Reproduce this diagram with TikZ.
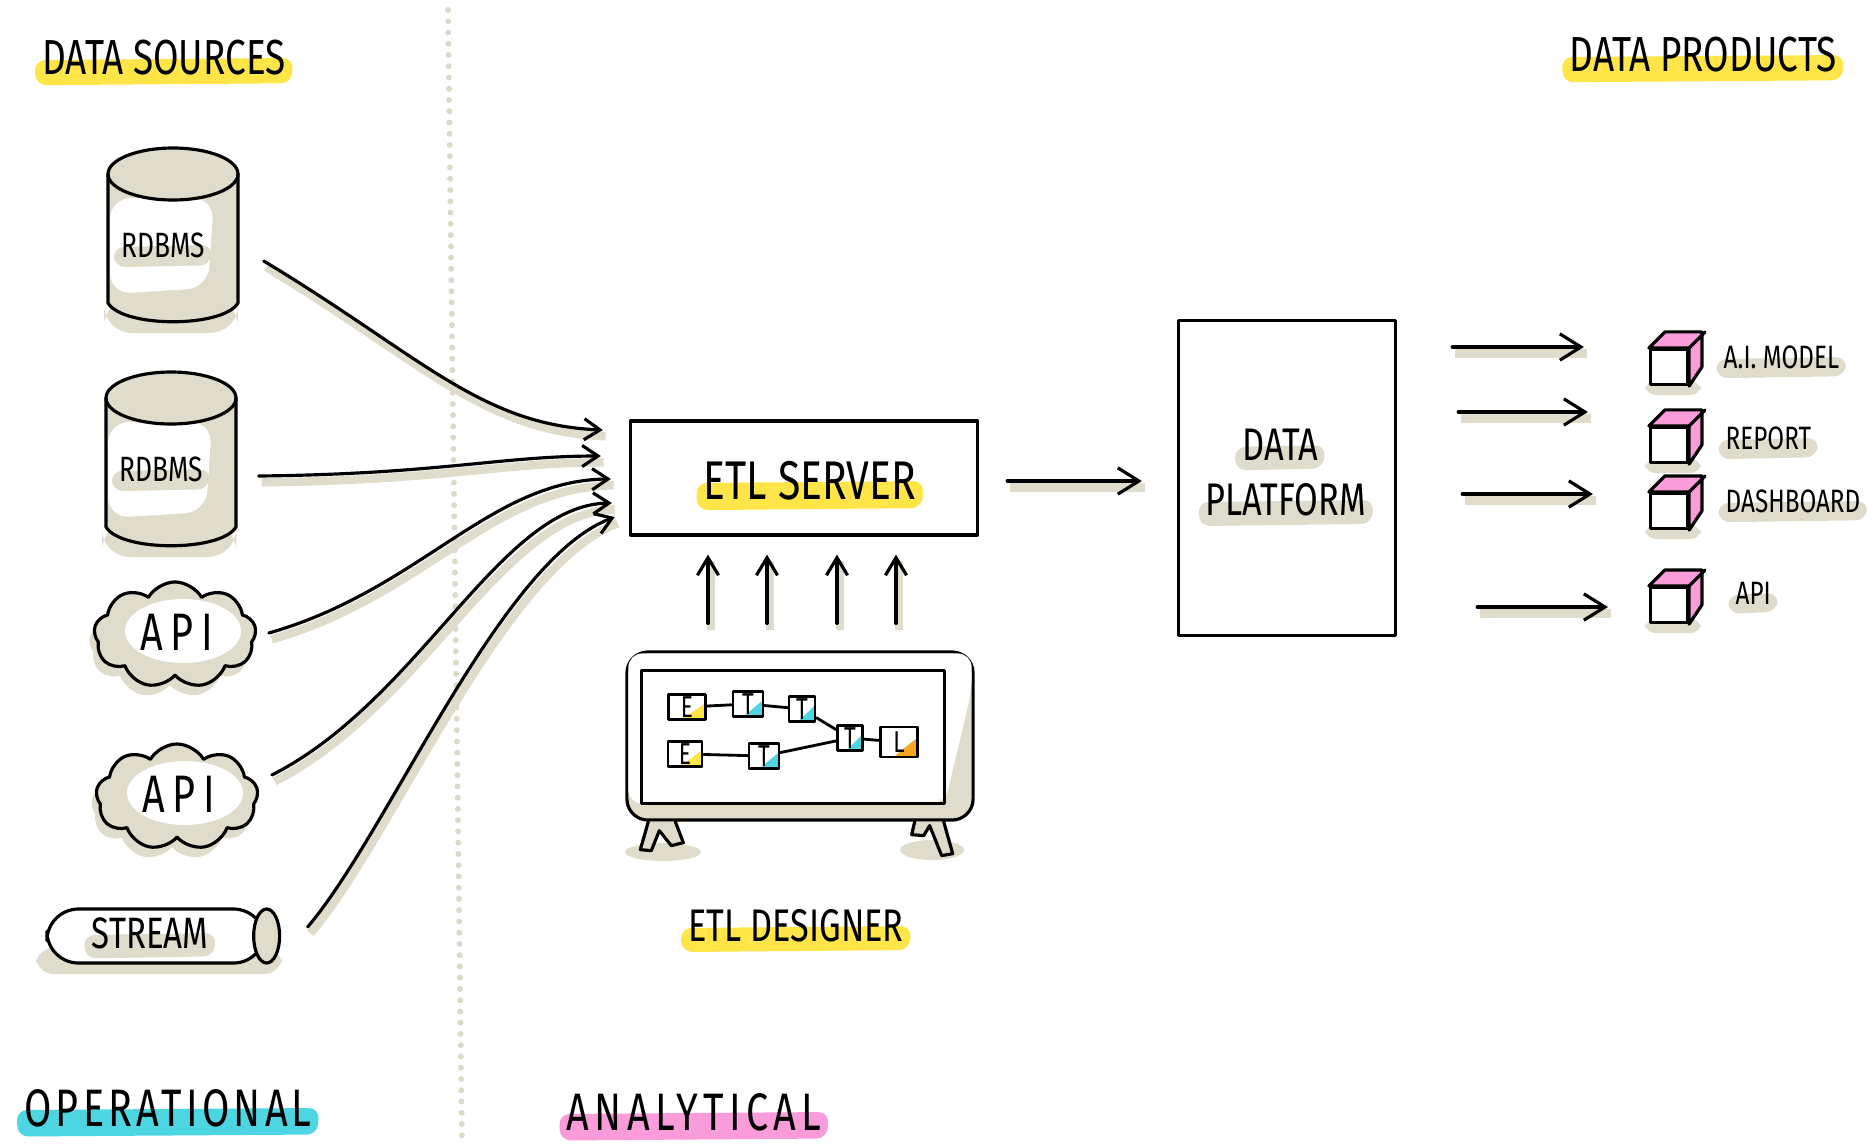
\documentclass[tikz,border=0pt]{standalone}
\usepackage{fontspec}
\newfontfamily\hand[FakeStretch=0.75]{Fira Sans}
\usepackage{tikz}
\usetikzlibrary{arrows.meta,calc,shapes.symbols,backgrounds}
\pgfdeclarelayer{front}
\pgfsetlayers{background,main,front}

\definecolor{sand}{HTML}{E0DCCB}
\definecolor{dotgrey}{HTML}{DDD9C9}
\definecolor{hlyellow}{HTML}{FFE547}
\definecolor{hlcyan}{HTML}{4DD5E2}
\definecolor{hlpink}{HTML}{FA9BDA}
\definecolor{hlorange}{HTML}{F5A623}

\tikzstyle{ink} = [line width=0.9pt, line join=round, line cap=round]
\tikzstyle{arr} = [ink, -{Straight Barb[length=6pt,width=7.5pt]},
    preaction={draw=sand, line width=2.4pt, arrows=-, transform canvas={shift={(0.8pt,-1.8pt)}}}]
\tikzstyle{feed} = [arr, -{Straight Barb[length=4.5pt,width=6pt]}]
\tikzstyle{word} = [inner sep=0pt, font=\hand\fontsize{14}{16}\selectfont]
\tikzstyle{dbword} = [inner sep=0pt, font=\hand\fontsize{10}{12}\selectfont]
\tikzstyle{apiword} = [inner sep=0pt, font=\hand\fontsize{15}{17}\selectfont\addfontfeature{LetterSpace=14}]
\tikzstyle{platword} = [inner sep=0pt, font=\hand\fontsize{13}{15}\selectfont]
\tikzstyle{tagword} = [inner sep=0pt, anchor=west, font=\hand\fontsize{9.2}{11}\selectfont]
\tikzstyle{cloudy} = [cloud, cloud puffs=9, cloud puff arc=120, cloud ignores aspect,
    minimum width=1.62cm, minimum height=1.06cm, draw, ink, fill=sand]
\tikzset{etlbox/.style={draw, ink, line width=0.8pt, fill=white, minimum width=0.3cm,
    minimum height=0.25cm, inner sep=0pt, font=\hand\fontsize{8.6}{9}\selectfont,
    path picture={\fill[#1] ($(path picture bounding box.south west)!0.35!(path picture bounding box.south east)$)
      -- (path picture bounding box.south east)
      -- ($(path picture bounding box.south east)!0.65!(path picture bounding box.north east)$) -- cycle;}}}

% marker stroke under a word, #1 colour, #2 word node
\newcommand{\smear}[2]{%
  \fill[#1, rounded corners=3pt] ($(#2.west)+(-7,2)$) -- ($(#2.east)+(7,0)$)
    -- ($(#2.south east)+(5,7)$) -- ($(#2.south west)+(-6,9)$) -- cycle;}

% database drum, #1 name, #2 left, #3 top, #4 text
\newcommand{\drum}[4]{%
  \begin{scope}[shift={(#2,#3)}]
    \fill[sand, rounded corners=8pt] (-4,150) rectangle (130,185);% floor shadow
    \fill[sand] (0,26) -- (0,155) .. controls (15,180) and (115,180) .. (130,155) -- (130,26) -- cycle;% body
    \fill[white, rounded corners=6pt] (2,50) -- (106,50) -- (100,140) -- (2,146) -- cycle;% lit front
    \filldraw[ink, fill=sand] (65,26) ellipse (65 and 26);% lid
    \draw[ink] (0,26) -- (0,155) .. controls (15,180) and (115,180) .. (130,155) -- (130,26);% outline
    \node[minimum width=1.3cm, minimum height=1.75cm, inner sep=0pt] (#1) at (65,88) {};
    \begin{pgfonlayer}{front}
      \node[dbword] (#1txt) at (55,97) {#4};
    \end{pgfonlayer}
  \end{scope}
  \smear{sand}{#1txt}}

% api cloud, #1 name, #2 x, #3 y
\newcommand{\puff}[3]{%
  \node[cloudy] (#1) at (#2,#3) {};
  \begin{scope}[on background layer]
    \node[cloudy, draw=none] at ($(#1)+(-5,10)$) {};% shadow
  \end{scope}
  \fill[white] ($(#1)+(8,-4)$) ellipse (58 and 32);
  \begin{pgfonlayer}{front}
    \node[apiword] (#1txt) at ($(#1)+(2,-3)$) {API};
  \end{pgfonlayer}}

% product cube, #1 name, #2 x, #3 y
\newcommand{\crate}[3]{%
  \node[draw, ink, fill=white, minimum width=0.37cm, minimum height=0.35cm, inner sep=0pt] (#1) at (#2,#3) {};
  \begin{scope}[on background layer]
    \fill[sand, rounded corners=3pt] ($(#1.south west)+(-4,-5)$) rectangle ($(#1.south east)+(12,9)$);
  \end{scope}
  \filldraw[ink, fill=hlpink] (#1.north west) -- ++(16,-16) -- ++(37,0) -- ++(0,35)
    -- (#1.south east) -- (#1.north east) -- cycle;% top and side
  \draw[ink] (#1.north east) -- ++(16,-16);}

\begin{document}
\begin{tikzpicture}[x=0.01cm, y=-0.01cm]
    \useasboundingbox (0,0) rectangle (1876,1145);
    \draw[dotgrey, line width=1.7pt, line cap=round, dash pattern=on 0pt off 3.2pt] (448,10) -- (462,1145);% divider

    % sources
    \drum{db1}{108}{148}{RDBMS}
    \drum{db2}{106}{372}{RDBMS}
    \puff{api1}{175}{635}
    \puff{api2}{177}{797}
    \begin{scope}[on background layer]
      \fill[sand, rounded corners=5pt] (36,948) rectangle (282,974);% stream shadow
    \end{scope}
    \node[draw, ink, fill=white, rounded corners=9pt, minimum width=2.18cm, minimum height=0.54cm] (stream) at (156,936) {};
    \filldraw[ink, fill=sand] (stream.east) ellipse (13 and 27);% pipe end
    \begin{pgfonlayer}{front}
      \node[word, font=\hand\fontsize{12.5}{14}\selectfont] (streamtxt) at (150,933) {STREAM};
    \end{pgfonlayer}
    \smear{sand}{streamtxt}

    % etl server
    \node[draw, ink, minimum width=3.47cm, minimum height=1.14cm] (etl) at (804,478) {};
    \begin{pgfonlayer}{front}
      \node[word, font=\hand\fontsize{15.5}{17}\selectfont] (etltxt) at (810,481) {ETL SERVER};
    \end{pgfonlayer}
    \smear{hlyellow}{etltxt}

    % sources into the server
    \draw[feed] ($(db1.east)+(25,25)$) .. controls (420,355) and (480,425) .. ($(etl.west)+(-26,-48)$);
    \draw[feed] ($(db2.east)+(22,16)$) .. controls (440,474) and (500,456) .. ($(etl.west)+(-28,-22)$);
    \draw[feed] ($(api1.east)+(12,-2)$) .. controls (420,590) and (490,480) .. ($(etl.west)+(-18,1)$);
    \draw[feed] ($(api2.east)+(13,-22)$) .. controls (420,700) and (500,505) .. ($(etl.west)+(-17,25)$);
    \draw[feed] ($(stream.east)+(41,-9)$) .. controls (390,830) and (500,560) .. ($(etl.west)+(-14,39)$);

    % etl designer screen
    \begin{scope}[on background layer]
      \fill[sand] (663,852) ellipse (38 and 9);
      \fill[sand] (932,850) ellipse (32 and 10);
    \end{scope}
    \node[draw, ink, fill=sand, rounded corners=6pt, minimum width=3.46cm, minimum height=1.68cm] (designer) at (800,736) {};
    \fill[white, rounded corners=4pt] ($(designer.north west)+(3,3)$) -- ($(designer.north east)+(-3,3)$)
      -- ($(designer.north east)+(-3,40)$) -- ($(designer.south east)+(-30,-18)$)
      -- ($(designer.south west)+(3,-18)$) -- cycle;
    \draw[ink] ($(designer.north west)+(16,20)$) rectangle ($(designer.south east)+(-30,-18)$);% screen
    \filldraw[ink, fill=sand] ($(designer.south west)+(23,0)$) -- ++(-8,28) -- ++(11,1) -- ++(8,-20)
      -- ++(12,15) -- ++(12,-3) -- ++(-8,-21);% left foot
    \filldraw[ink, fill=sand] ($(designer.south east)+(-60,0)$) -- ++(-3,13) -- ++(12,1) -- ++(6,-10)
      -- ++(12,30) -- ++(11,-2) -- ++(-9,-32);% right foot

    % flow on the screen
    \node[etlbox=hlyellow, minimum width=0.37cm] (e1) at (687,707) {E};
    \node[etlbox=hlcyan] (t1) at (748,704) {T};
    \node[etlbox=hlcyan, minimum width=0.26cm] (t2) at (802,709) {T};
    \node[etlbox=hlcyan, minimum width=0.25cm] (t3) at (850,738) {T};
    \node[etlbox=hlorange, minimum width=0.37cm, minimum height=0.3cm] (l1) at (899,742) {L};
    \node[etlbox=hlyellow, minimum width=0.34cm] (e2) at (685,754) {E};
    \node[etlbox=hlcyan] (t4) at (764,756) {T};
    \draw[ink, line width=0.8pt] (e1) -- (t1) -- (t2) -- (t3) -- (l1);
    \draw[ink, line width=0.8pt] (e2) -- (t4) -- (t3);

    \foreach \dx in {-92,-33,37,96}
      \draw[arr, -{Straight Barb[length=5pt,width=6pt]}] ($(designer.north)+(\dx,-27)$)
        -- ($(designer.north |- etl.south)+(\dx,18)$);% designer feeds server
    \begin{pgfonlayer}{front}
      \node[word, font=\hand\fontsize{13}{15}\selectfont] (designertxt) at (796,926) {ETL DESIGNER};
    \end{pgfonlayer}
    \smear{hlyellow}{designertxt}

    % data platform
    \node[draw, ink, minimum width=2.17cm, minimum height=3.15cm] (platform) at (1287,478) {};
    \begin{pgfonlayer}{front}
      \node[platword] (plat1) at (1280,445) {DATA};
      \node[platword] (plat2) at (1286,500) {PLATFORM};
    \end{pgfonlayer}
    \smear{sand}{plat1}
    \smear{sand}{plat2}
    \draw[arr] ($(etl.east)+(28,3)$) -- ($(platform.west |- etl.east)+(-35,3)$);

    % products
    \crate{ai}{1669}{367}
    \crate{rep}{1669}{445}
    \crate{dash}{1669}{511}
    \crate{apiout}{1669}{605}
    \foreach \c/\dy/\a/\b in {ai/-20/55/-65, rep/-33/61/-61, dash/-17/65/-56, apiout/2/80/-41}
      \draw[arr] ($(platform.east |- \c.west)+(\a,\dy)$) -- ($(\c.west)+(\b,\dy)$);
    \begin{pgfonlayer}{front}
      \node[tagword] (aitxt) at (1723,357) {A.I. MODEL};
      \node[tagword] (reptxt) at (1725,438) {REPORT};
      \node[tagword] (dashtxt) at (1725,501) {DASHBOARD};
      \node[tagword] (apitxt) at (1735,593) {API};
    \end{pgfonlayer}
    \smear{sand}{aitxt}
    \smear{sand}{reptxt}
    \smear{sand}{dashtxt}
    \smear{sand}{apitxt}

    % headings
    \begin{pgfonlayer}{front}
      \node[word] (srcs) at (164,58) {DATA SOURCES};
      \node[word] (prods) at (1703,55) {DATA PRODUCTS};
      \node[word, font=\hand\fontsize{15}{17}\selectfont\addfontfeature{LetterSpace=8}] (oper) at (168,1108) {OPERATIONAL};
      \node[word, font=\hand\fontsize{15}{17}\selectfont\addfontfeature{LetterSpace=10}] (anal) at (694,1112) {ANALYTICAL};
    \end{pgfonlayer}
    \smear{hlyellow}{srcs}
    \smear{hlyellow}{prods}
    \smear{hlcyan}{oper}
    \smear{hlpink}{anal}
\end{tikzpicture}
\end{document}
